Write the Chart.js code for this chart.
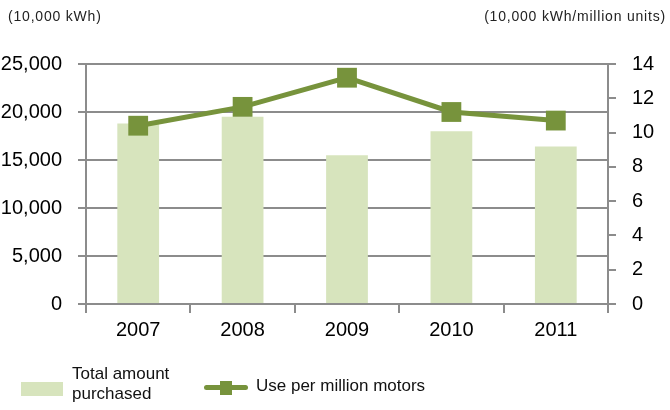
<!DOCTYPE html>
<html>
<head>
<meta charset="utf-8">
<script src="https://cdn.jsdelivr.net/npm/chart.js@4/dist/chart.umd.min.js"></script>
<style>
  html, body { margin: 0; padding: 0; background: #fff; }
  #wrap { position: relative; width: 670px; height: 410px; font-family: "Liberation Sans", Arial, sans-serif; }
  #chart { position: absolute; left: 0; top: 0; }
  .unit { position: absolute; top: 8px; font-size: 14px; letter-spacing: 0.8px; color: #222; }
  .legend { position: absolute; color: #111; font-family: "Liberation Sans Narrow", "Liberation Sans", Arial, sans-serif; font-size: 17px; line-height: 20px; }
</style>
</head>
<body>
<div id="wrap">
  <canvas id="chart" width="670" height="410"></canvas>
  <div class="unit" style="left:8px;">(10,000 kWh)</div>
  <div class="unit" style="right:4px;">(10,000 kWh/million units)</div>

  <div style="position:absolute;left:21px;top:382px;width:42px;height:14px;background:#d7e4bd;"></div>
  <div class="legend" style="left:72px;top:364px;">Total amount<br>purchased</div>

  <div style="position:absolute;left:204px;top:385px;width:44px;height:5px;border-radius:3px;background:#77933c;"></div>
  <div style="position:absolute;left:220px;top:381px;width:12px;height:14px;background:#77933c;"></div>
  <div class="legend" style="left:256px;top:376px;">Use per million motors</div>
</div>
<script>
// категории и ряды
const years = ['2007', '2008', '2009', '2010', '2011'];
const totalPurchased = [18800, 19500, 15500, 18000, 16400];
const usePerMillion = [10.4, 11.5, 13.2, 11.2, 10.7];

const barColor = '#d7e4bd';
const lineColor = '#77933c';
const gridColor = '#8c8c8c';
const tickFont = { family: '"Liberation Sans", Arial, sans-serif', size: 20 };

const ctx = document.getElementById('chart').getContext('2d');
new Chart(ctx, {
    data: {
        labels: years,
        datasets: [
            {
                type: 'line',
                label: 'Use per million motors',
                data: usePerMillion,
                yAxisID: 'y2',
                borderColor: lineColor,
                backgroundColor: lineColor,
                borderWidth: 5,
                pointStyle: 'rect',
                pointRadius: 14,
                pointHoverRadius: 14,
                pointBorderWidth: 0,
                tension: 0,
                order: 0
            },
            {
                type: 'bar',
                label: 'Total amount purchased',
                data: totalPurchased,
                yAxisID: 'y',
                backgroundColor: barColor,
                categoryPercentage: 1,
                barPercentage: 0.4,
                order: 1
            }
        ]
    },
    options: {
        responsive: false,
        animation: false,
        layout: { padding: { top: 64, bottom: 0, left: 0, right: 0 } },
        plugins: {
            legend: { display: false },
            tooltip: { enabled: false }
        },
        scales: {
            x: {
                afterFit: s => { s.height = 106; },
                grid: { display: true, drawOnChartArea: false, drawTicks: true, tickLength: 9, color: gridColor, lineWidth: 2 },
                border: { display: true, color: gridColor, width: 2 },
                ticks: { color: '#000', font: tickFont, padding: 5 }
            },
            y: {
                position: 'left',
                min: 0,
                max: 25000,
                afterFit: s => { s.width = 86; },
                ticks: {
                    stepSize: 5000,
                    color: '#000',
                    font: tickFont,
                    padding: 16,
                    callback: v => v.toLocaleString('en-US')
                },
                grid: { color: gridColor, lineWidth: 2, tickLength: 8 },
                border: { display: true, color: gridColor, width: 2 }
            },
            y2: {
                position: 'right',
                min: 0,
                max: 14,
                afterFit: s => { s.width = 62; },
                ticks: { stepSize: 2, color: '#000', font: tickFont, padding: 16 },
                grid: { drawOnChartArea: false, color: gridColor, lineWidth: 2, tickLength: 8 },
                border: { display: true, color: gridColor, width: 2 }
            }
        }
    }
});
</script>
</body>
</html>
